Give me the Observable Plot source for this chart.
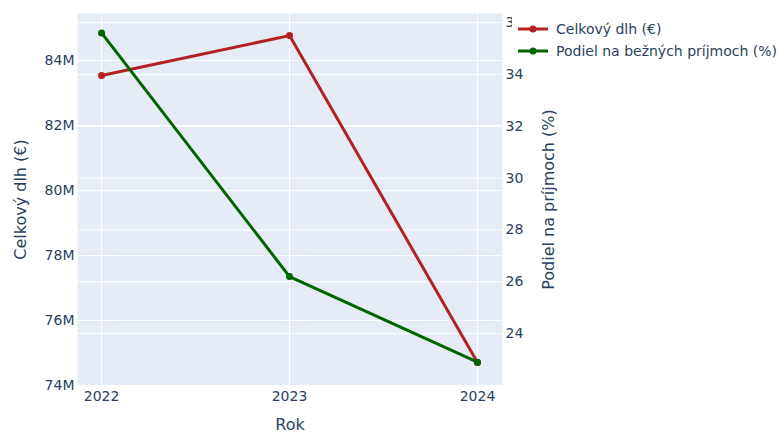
<!DOCTYPE html>
<html><head><meta charset="utf-8">
<script src="https://cdn.jsdelivr.net/npm/d3@7"></script>
<script src="https://cdn.jsdelivr.net/npm/@observablehq/plot@0.6"></script>
<style>
body{margin:0;background:#fff;font-family:"DejaVu Sans",sans-serif;}
#wrap{position:relative;width:777px;height:432px;}
#legend{position:absolute;left:512px;top:17px;background:#fff;font-size:14px;color:#2a3f5f;padding:1px 0 1px 4px;}
#legend .item{display:flex;align-items:center;height:22px;white-space:nowrap;}
#legend svg{margin-right:6px;}
</style></head>
<body><div id="wrap"><div id="chart"></div><div id="legend"></div></div>
<script>
const years = [2022, 2023, 2024];
const debt = [83.54e6, 84.77e6, 74.71e6];
const share = [35.6, 26.2, 22.9];
const leftTicks = [74e6, 76e6, 78e6, 80e6, 82e6, 84e6];
const rightTicks = [24, 26, 28, 30, 32, 34, 36];
const seriesNames = ["Celkový dlh (€)", "Podiel na bežných príjmoch (%)"];
const colors = ["#B22222", "#006400"];

const yL = [74e6, 85.45e6];
const yR = [22, 36.35];
const toLeft = v => yL[0] + (v - yR[0]) * (yL[1] - yL[0]) / (yR[1] - yR[0]);
const fromLeft = v => yR[0] + (v - yL[0]) * (yR[1] - yR[0]) / (yL[1] - yL[0]);

const dDebt = years.map((y, i) => ({year: y, v: debt[i]}));
const dShare = years.map((y, i) => ({year: y, v: toLeft(share[i])}));

const chart = Plot.plot({
  width: 777, height: 432,
  marginLeft: 77, marginRight: 275, marginTop: 13, marginBottom: 47,
  style: {fontFamily: '"DejaVu Sans", sans-serif', fontSize: "14px", color: "#2a3f5f", background: "white"},
  x: {domain: [2021.872, 2024.133]},
  y: {domain: yL},
  marks: [
    Plot.frame({fill: "#E5ECF6", stroke: null}),
    Plot.gridX(years, {stroke: "white", strokeOpacity: 1, strokeWidth: 1}),
    Plot.gridY(leftTicks, {stroke: "white", strokeOpacity: 1, strokeWidth: 1}),
    Plot.gridY(rightTicks.map(toLeft).filter(v => v <= yL[1]), {stroke: "white", strokeOpacity: 1, strokeWidth: 1}),
    Plot.lineY(dDebt, {x: "year", y: "v", stroke: colors[0], strokeWidth: 3}),
    Plot.dot(dDebt, {x: "year", y: "v", fill: colors[0], r: 3.5}),
    Plot.lineY(dShare, {x: "year", y: "v", stroke: colors[1], strokeWidth: 3}),
    Plot.dot(dShare, {x: "year", y: "v", fill: colors[1], r: 3.5}),
    Plot.axisX(years, {tickFormat: d => String(d), tickSize: 0, tickPadding: 6, fontSize: 14,
      label: "Rok", labelAnchor: "center", labelArrow: "none", labelOffset: 44}),
    Plot.axisY(leftTicks, {anchor: "left", tickFormat: d3.format("~s"), tickSize: 0, tickPadding: 3, fontSize: 14,
      label: "Celkový dlh (€)", labelAnchor: "center", labelArrow: "none", labelOffset: 63}),
    Plot.axisY(rightTicks.map(toLeft), {anchor: "right", tickFormat: d => String(Math.round(fromLeft(d))), tickSize: 0, tickPadding: 3, fontSize: 14,
      label: "Podiel na príjmoch (%)", labelAnchor: "center", labelArrow: "none", labelOffset: 51})
  ]
});
chart.querySelectorAll('g[aria-label$="axis label"] text').forEach(t => t.style.fontSize = "16px");
document.getElementById("chart").append(chart);

const legend = document.getElementById("legend");
seriesNames.forEach((n, i) => {
  const it = document.createElement("div");
  it.className = "item";
  it.innerHTML = `<svg width="34" height="10"><line x1="2" x2="32" y1="5" y2="5" stroke="${colors[i]}" stroke-width="3"/><circle cx="17" cy="5" r="3.5" fill="${colors[i]}"/></svg><span>${n}</span>`;
  legend.append(it);
});
</script></body></html>
